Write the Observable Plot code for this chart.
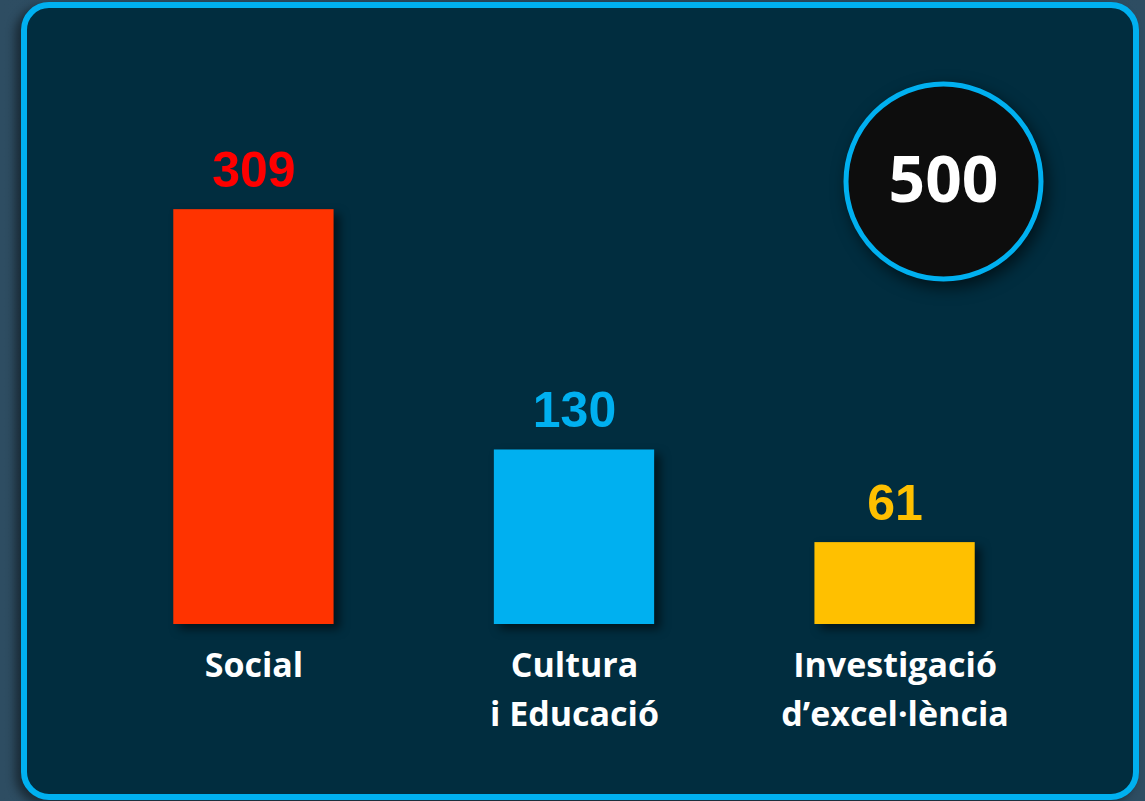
<!DOCTYPE html>
<html>
<head>
<meta charset="utf-8">
<script src="https://cdn.jsdelivr.net/npm/d3@7"></script>
<script src="https://cdn.jsdelivr.net/npm/@observablehq/plot@0.6"></script>
<style>
  html, body { margin: 0; padding: 0; }
  body {
    width: 1145px; height: 801px; overflow: hidden; position: relative;
    background: linear-gradient(90deg, #2e4d62 0%, #2a475b 50%, #2e4d62 100%);
  }
  #panel {
    position: absolute; left: 21px; top: 2px; width: 1106px; height: 786px;
    border: 6px solid #00b0f0; border-radius: 28px; background: #012d3f;
    box-shadow: -6px 4px 10px rgba(0,0,0,0.45);
  }
  #chart { position: absolute; left: 0; top: 0; }
  #chart svg { background: transparent !important; }
  .bars { filter: drop-shadow(6px 5px 5px rgba(0,0,0,0.55)); }
  .badge { filter: drop-shadow(4px 6px 8px rgba(0,0,0,0.6)); }
</style>
</head>
<body>
<div id="panel"></div>
<div id="chart"></div>
<script>
const categories = ["Social", "Cultura i Educació", "Investigació d'excel·lència"];
const labels = ["Social", "Cultura\ni Educació", "Investigació\nd\u2019excel·lència"];
const values = [309, 130, 61];
const barColors = ["#ff3300", "#00b0f0", "#ffc000"];
const valueColors = ["#ff0000", "#00b0f0", "#ffc000"];
const total = [500];

const data = categories.map((c, i) => ({
  cat: c, label: labels[i], value: values[i], bar: barColors[i], vcol: valueColors[i]
}));

const chart = Plot.plot({
  width: 1145,
  height: 801,
  marginTop: 87,
  marginBottom: 177,
  marginLeft: 13,
  marginRight: 10,
  style: { background: "transparent", overflow: "visible" },
  x: { domain: categories, padding: 0.5, round: false, axis: null },
  y: { domain: [0, 400], axis: null },
  marks: [
    Plot.barY(data, { x: "cat", y: "value", fill: "bar", className: "bars" }),
    Plot.text(data, {
      x: "cat", y: "value", text: d => String(d.value), fill: "vcol",
      lineAnchor: "bottom", dy: -23,
      fontSize: 50, fontWeight: "bold", fontFamily: "Liberation Sans, Arial, sans-serif"
    }),
    Plot.text(data, {
      x: "cat", text: "label", frameAnchor: "bottom", lineAnchor: "top", dy: 18,
      lineHeight: 1.44, fill: "white",
      fontSize: 34, fontWeight: "bold", fontFamily: "Open Sans, sans-serif"
    }),
    Plot.dot(total, {
      frameAnchor: "top-right", dx: -192, dy: 94, r: 97.5,
      fill: "#0d0d0d", stroke: "#00b0f0", strokeWidth: 5, className: "badge"
    }),
    Plot.text(total, {
      frameAnchor: "top-right", dx: -192, dy: 94, text: d => String(d),
      textAnchor: "middle", lineAnchor: "middle",
      fill: "white", fontSize: 64, fontWeight: "bold", fontFamily: "Open Sans, sans-serif"
    })
  ]
});
document.getElementById("chart").appendChild(chart);
</script>
</body>
</html>
